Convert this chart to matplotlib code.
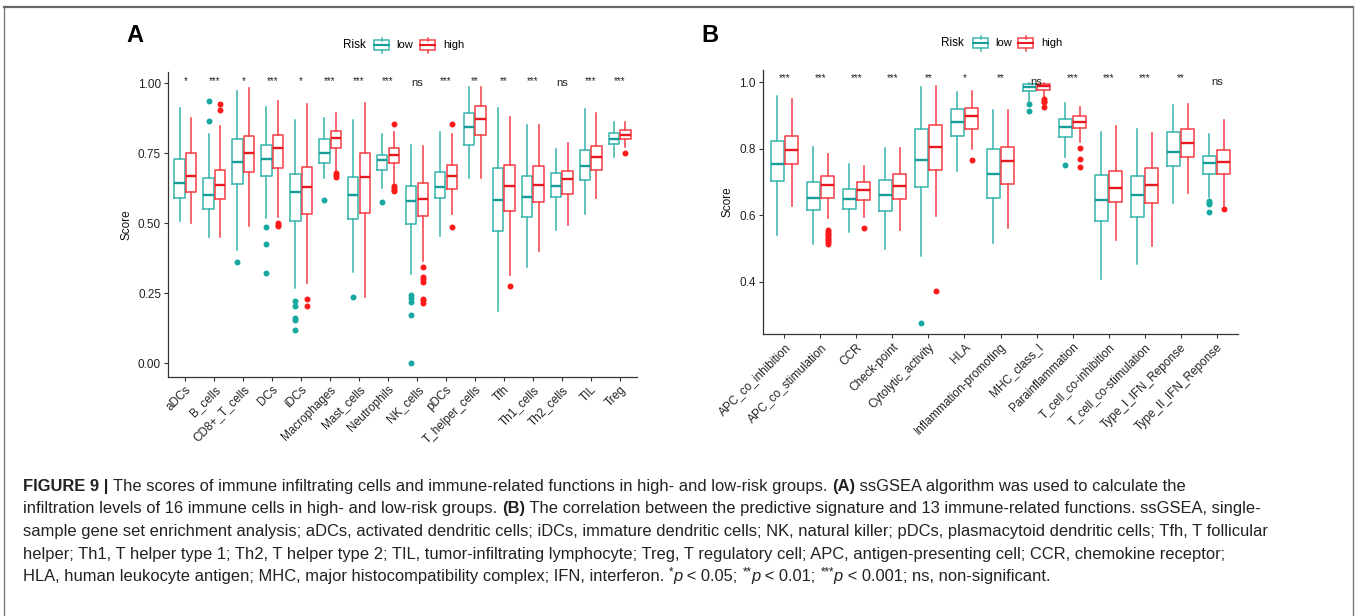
import matplotlib
matplotlib.use("Agg")
import matplotlib.pyplot as plt
from matplotlib import font_manager
from matplotlib.patches import Rectangle
from matplotlib.lines import Line2D

# ---------------- data: panel A ----------------
a_cats = ["aDCs", "B_cells", "CD8+_T_cells", "DCs", "iDCs", "Macrophages", "Mast_cells",
          "Neutrophils", "NK_cells", "pDCs", "T_helper_cells", "Tfh", "Th1_cells",
          "Th2_cells", "TIL", "Treg"]
a_sig = ["*", "***", "*", "***", "*", "***", "***", "***", "ns", "***", "**", "**", "***",
         "ns", "***", "***"]
a_low_whislo = [0.508, 0.450, 0.405, 0.520, 0.270, 0.661, 0.327, 0.625, 0.319, 0.456, 0.663, 0.188, 0.345, 0.475, 0.532, 0.737]
a_low_q1     = [0.589, 0.550, 0.642, 0.671, 0.507, 0.714, 0.515, 0.689, 0.496, 0.589, 0.781, 0.471, 0.523, 0.595, 0.655, 0.782]
a_low_med    = [0.644, 0.602, 0.721, 0.729, 0.611, 0.752, 0.601, 0.726, 0.579, 0.631, 0.845, 0.583, 0.594, 0.635, 0.705, 0.800]
a_low_q3     = [0.731, 0.662, 0.802, 0.780, 0.677, 0.800, 0.667, 0.746, 0.632, 0.685, 0.896, 0.699, 0.671, 0.680, 0.763, 0.823]
a_low_whishi = [0.912, 0.818, 0.974, 0.915, 0.869, 0.877, 0.869, 0.819, 0.779, 0.825, 0.986, 0.913, 0.850, 0.764, 0.908, 0.863]
a_low_fliers = [[], [0.937, 0.865], [0.362], [0.488, 0.426, 0.324],
                [0.223, 0.206, 0.163, 0.155, 0.119], [0.583], [0.238], [0.577],
                [0.244, 0.232, 0.218, 0.173, 0.0], [], [], [], [], [], [], []]
a_high_whislo = [0.501, 0.450, 0.490, 0.524, 0.286, 0.685, 0.238, 0.643, 0.367, 0.532, 0.662, 0.315, 0.402, 0.495, 0.589, 0.773]
a_high_q1     = [0.612, 0.586, 0.683, 0.699, 0.535, 0.771, 0.538, 0.715, 0.525, 0.624, 0.814, 0.545, 0.576, 0.605, 0.692, 0.800]
a_high_med    = [0.670, 0.636, 0.750, 0.768, 0.631, 0.805, 0.667, 0.743, 0.587, 0.671, 0.874, 0.635, 0.637, 0.658, 0.736, 0.815]
a_high_q3     = [0.750, 0.692, 0.812, 0.817, 0.702, 0.829, 0.750, 0.769, 0.643, 0.707, 0.919, 0.707, 0.705, 0.688, 0.777, 0.832]
a_high_whishi = [0.877, 0.849, 0.982, 0.937, 0.926, 0.893, 0.929, 0.827, 0.776, 0.820, 0.988, 0.879, 0.850, 0.786, 0.893, 0.863]
a_high_fliers = [[], [0.926, 0.904], [], [0.502, 0.495, 0.490], [0.230, 0.205],
                 [0.680, 0.672, 0.665], [], [0.855, 0.635, 0.625, 0.620, 0.615],
                 [0.343, 0.307, 0.300, 0.290, 0.231, 0.225, 0.214], [0.855, 0.487],
                 [], [0.277], [], [], [], [0.752]]

# ---------------- data: panel B ----------------
b_cats = ["APC_co_inhibition", "APC_co_stimulation", "CCR", "Check-point", "Cytolytic_activity",
          "HLA", "Inflammation-promoting", "MHC_class_I", "Parainflammation",
          "T_cell_co-inhibition", "T_cell_co-stimulation", "Type_I_IFN_Reponse",
          "Type_II_IFN_Reponse"]
b_sig = ["***", "***", "***", "***", "**", "*", "**", "ns", "***", "***", "***", "**", "ns"]
b_low_whislo = [0.540, 0.515, 0.550, 0.498, 0.478, 0.734, 0.518, 0.944, 0.774, 0.409, 0.452, 0.636, 0.656]
b_low_q1     = [0.703, 0.617, 0.618, 0.614, 0.686, 0.837, 0.651, 0.973, 0.834, 0.584, 0.594, 0.747, 0.723]
b_low_med    = [0.754, 0.651, 0.648, 0.660, 0.767, 0.882, 0.725, 0.986, 0.865, 0.646, 0.661, 0.791, 0.756]
b_low_q3     = [0.823, 0.701, 0.679, 0.707, 0.861, 0.921, 0.800, 0.994, 0.889, 0.720, 0.718, 0.851, 0.778]
b_low_whishi = [0.960, 0.804, 0.755, 0.803, 0.985, 0.970, 0.917, 0.999, 0.937, 0.850, 0.861, 0.931, 0.844]
b_low_fliers = [[], [], [], [], [0.276], [], [], [0.935, 0.913], [0.750], [], [], [],
                [0.644, 0.638, 0.633, 0.610]]
b_high_whislo = [0.629, 0.591, 0.594, 0.555, 0.598, 0.800, 0.562, 0.955, 0.821, 0.527, 0.507, 0.668, 0.629]
b_high_q1     = [0.753, 0.653, 0.647, 0.650, 0.737, 0.861, 0.694, 0.977, 0.862, 0.639, 0.638, 0.776, 0.725]
b_high_med    = [0.796, 0.690, 0.676, 0.687, 0.806, 0.898, 0.762, 0.988, 0.882, 0.683, 0.691, 0.818, 0.759]
b_high_q3     = [0.839, 0.717, 0.700, 0.723, 0.871, 0.924, 0.806, 0.994, 0.900, 0.733, 0.742, 0.859, 0.795]
b_high_whishi = [0.950, 0.785, 0.748, 0.802, 0.989, 0.973, 0.917, 0.997, 0.925, 0.868, 0.846, 0.934, 0.888]
b_high_fliers = [[], [0.557, 0.550, 0.545, 0.540, 0.535, 0.530, 0.525, 0.520, 0.515], [0.562],
                 [], [0.372], [0.765], [], [0.949, 0.945, 0.942, 0.927],
                 [0.802, 0.768, 0.745], [], [], [], [0.618]]

groups = ["low", "high"]

# ---------------- style ----------------
W, H = 1356, 616
LOW_LINE, LOW_MED, LOW_PT = "#3DB7B0", "#159E98", "#17A8A2"
HIGH_LINE, HIGH_MED, HIGH_PT = "#F5434A", "#E8171F", "#FF1A1A"

avail = {f.name for f in font_manager.fontManager.ttflist}
plot_font = "Liberation Sans" if "Liberation Sans" in avail else "DejaVu Sans"
cap_font = "Liberation Sans Narrow" if "Liberation Sans Narrow" in avail else plot_font
plt.rcParams["font.family"] = [plot_font, "DejaVu Sans"]

fig = plt.figure(figsize=(W / 100, H / 100), dpi=100)


def fx(px):
    return px / W


def fy(py):
    return 1 - py / H


def draw_panel(ax, cats, sig, low, high, ylim, yticks, ytl, sig_y, ns_y):
    n = len(cats)
    for g, (stats_src, lc, mc, pc, off) in enumerate([
            (low, LOW_LINE, LOW_MED, LOW_PT, -0.2),
            (high, HIGH_LINE, HIGH_MED, HIGH_PT, 0.2)]):
        wlo, q1, med, q3, whi, fl = stats_src
        stats = [dict(whislo=wlo[i], q1=q1[i], med=med[i], q3=q3[i], whishi=whi[i],
                      fliers=fl[i]) for i in range(n)]
        ax.bxp(stats, positions=[i + 1 + off for i in range(n)], widths=0.36,
               showcaps=False, patch_artist=False, manage_ticks=False,
               boxprops=dict(color=lc, lw=1.15),
               whiskerprops=dict(color=lc, lw=1.15),
               medianprops=dict(color=mc, lw=1.7, solid_capstyle="butt"),
               flierprops=dict(marker="o", markerfacecolor=pc, markeredgecolor="none",
                               markersize=4.3))
    for i, s in enumerate(sig):
        if s == "ns":
            ax.text(i + 1, ns_y, s, ha="center", va="center", fontsize=8, color="#222222")
        else:
            ax.text(i + 1, sig_y, s, ha="center", va="center", fontsize=7, color="#222222")
    ax.set_xlim(0.4, n + 0.6)
    ax.set_ylim(*ylim)
    ax.set_yticks(yticks)
    ax.set_yticklabels(ytl, fontsize=8.5, color="#222222")
    ax.set_xticks(range(1, n + 1))
    ax.set_xticklabels(cats, rotation=45, ha="right", va="top", rotation_mode="anchor",
                       fontsize=8.5, color="#222222")
    ax.set_ylabel("Score", fontsize=8.5, labelpad=4, color="#111111")
    for sp in ["top", "right"]:
        ax.spines[sp].set_visible(False)
    for sp in ["left", "bottom"]:
        ax.spines[sp].set_color("#333333")
        ax.spines[sp].set_linewidth(0.9)
    ax.tick_params(axis="both", direction="out", length=3, width=0.8, color="#333333", pad=2)


axA = fig.add_axes([fx(168), fy(376.7), fx(637 - 168), (376.7 - 71.7) / H])
draw_panel(axA, a_cats, a_sig,
           (a_low_whislo, a_low_q1, a_low_med, a_low_q3, a_low_whishi, a_low_fliers),
           (a_high_whislo, a_high_q1, a_high_med, a_high_q3, a_high_whishi, a_high_fliers),
           (-0.048, 1.042), [0, 0.25, 0.5, 0.75, 1.0], ["0.00", "0.25", "0.50", "0.75", "1.00"],
           1.01, 1.0)

axB = fig.add_axes([fx(762.7), fy(334.3), fx(1238.3 - 762.7), (334.3 - 70) / H])
draw_panel(axB, b_cats, b_sig,
           (b_low_whislo, b_low_q1, b_low_med, b_low_q3, b_low_whishi, b_low_fliers),
           (b_high_whislo, b_high_q1, b_high_med, b_high_q3, b_high_whishi, b_high_fliers),
           (0.242, 1.037), [0.4, 0.6, 0.8, 1.0], ["0.4", "0.6", "0.8", "1.0"],
           1.012, 1.0)

# panel letters
fig.text(fx(126), fy(35), "A", fontsize=17, fontweight="bold", ha="left", va="center")
fig.text(fx(701), fy(35), "B", fontsize=17, fontweight="bold", ha="left", va="center")


# legends (manual, in pixel coordinates)
def key(x0, yc, lc, mc):
    w, h = 15, 9
    fig.add_artist(Line2D([fx(x0 + w / 2)] * 2, [fy(yc - h / 2 - 3), fy(yc - h / 2)],
                          color=lc, lw=1.1, transform=fig.transFigure))
    fig.add_artist(Line2D([fx(x0 + w / 2)] * 2, [fy(yc + h / 2), fy(yc + h / 2 + 3)],
                          color=lc, lw=1.1, transform=fig.transFigure))
    fig.add_artist(Rectangle((fx(x0), fy(yc + h / 2)), fx(w), h / H, fill=False,
                             edgecolor=lc, lw=1.1, transform=fig.transFigure))
    fig.add_artist(Line2D([fx(x0), fx(x0 + w)], [fy(yc)] * 2, color=mc, lw=1.5,
                          transform=fig.transFigure))


def legend(x_risk, x_low, x_high, yc):
    fig.text(fx(x_risk), fy(yc), "Risk", fontsize=8.5, ha="left", va="center")
    key(x_low, yc, LOW_LINE, LOW_MED)
    fig.text(fx(x_low + 22), fy(yc), groups[0], fontsize=8, ha="left", va="center")
    key(x_high, yc, HIGH_LINE, HIGH_MED)
    fig.text(fx(x_high + 23), fy(yc), groups[1], fontsize=8, ha="left", va="center")


legend(343, 374, 420, 45)
legend(941, 973, 1018, 43)

# frame around figure
fr = "#7a7a7a"
fig.add_artist(Line2D([fx(3.5), fx(1352.5)], [fy(6.5)] * 2, color="#666666", lw=1.6,
                      transform=fig.transFigure))
fig.add_artist(Line2D([fx(3.5)] * 2, [fy(6.5), fy(620)], color=fr, lw=1.0,
                      transform=fig.transFigure))
fig.add_artist(Line2D([fx(1352.5)] * 2, [fy(6.5), fy(620)], color=fr, lw=1.0,
                      transform=fig.transFigure))

# caption with mixed styles
cap_lines = [
    [("FIGURE 9 | ", "bold", "normal", 0), ("The scores of immune infiltrating cells and immune-related functions in high- and low-risk groups. ", "normal", "normal", 0),
     ("(A)", "bold", "normal", 0), (" ssGSEA algorithm was used to calculate the", "normal", "normal", 0)],
    [("infiltration levels of 16 immune cells in high- and low-risk groups. ", "normal", "normal", 0), ("(B)", "bold", "normal", 0),
     (" The correlation between the predictive signature and 13 immune-related functions. ssGSEA, single-", "normal", "normal", 0)],
    [("sample gene set enrichment analysis; aDCs, activated dendritic cells; iDCs, immature dendritic cells; NK, natural killer; pDCs, plasmacytoid dendritic cells; Tfh, T follicular", "normal", "normal", 0)],
    [("helper; Th1, T helper type 1; Th2, T helper type 2; TIL, tumor-infiltrating lymphocyte; Treg, T regulatory cell; APC, antigen-presenting cell; CCR, chemokine receptor;", "normal", "normal", 0)],
    [("HLA, human leukocyte antigen; MHC, major histocompatibility complex; IFN, interferon. ", "normal", "normal", 0),
     ("*", "normal", "normal", 1), ("p", "normal", "italic", 0), (" < 0.05; ", "normal", "normal", 0),
     ("**", "normal", "normal", 1), ("p", "normal", "italic", 0), (" < 0.01; ", "normal", "normal", 0),
     ("***", "normal", "normal", 1), ("p", "normal", "italic", 0), (" < 0.001; ns, non-significant.", "normal", "normal", 0)],
]
cap_y = [485, 507.5, 530, 552.5, 575]
cap_size = 11.9
renderer = fig.canvas.get_renderer()
for segs, yy in zip(cap_lines, cap_y):
    x = 23.0
    for txt, wt, st, sup in segs:
        size = cap_size * (0.7 if sup else 1.0)
        ypix = yy - (4 if sup else 0)
        t = fig.text(fx(x), fy(ypix), txt, fontsize=size, fontweight=wt, fontstyle=st,
                     family=[cap_font, "DejaVu Sans"], ha="left", va="center_baseline",
                     color="#222222")
        bb = t.get_window_extent(renderer=renderer)
        x += bb.width

fig.savefig("out.png", dpi=100, facecolor="white")
